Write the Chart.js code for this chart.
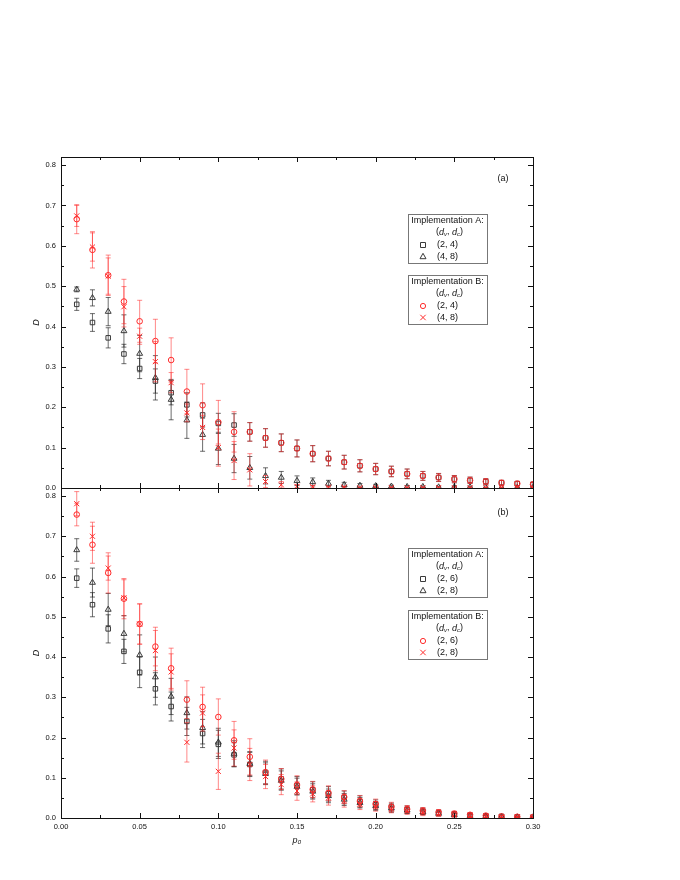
<!DOCTYPE html>
<html>
<head>
<meta charset="utf-8">
<script src="https://cdn.jsdelivr.net/npm/chart.js@4.4.1/dist/chart.umd.min.js"></script>
<style>
  html, body { margin: 0; background: #fff; }
  #wrap { position: relative; width: 680px; height: 880px; }
  #wrap canvas { position: absolute; left: 0; top: 0; }
</style>
</head>
<body>
<div id="wrap">
  <canvas id="panelB" width="680" height="880"></canvas>
  <canvas id="panelA" width="680" height="880"></canvas>
</div>
<script>
// p0 values shared by both panels
const pValues = [0.01, 0.02, 0.03, 0.04, 0.05, 0.06, 0.07, 0.08, 0.09, 0.10,
                 0.11, 0.12, 0.13, 0.14, 0.15, 0.16, 0.17, 0.18, 0.19, 0.20,
                 0.21, 0.22, 0.23, 0.24, 0.25, 0.26, 0.27, 0.28, 0.29, 0.30];

const xTickValues = [0, 0.05, 0.10, 0.15, 0.20, 0.25, 0.30];
const xMinorTicks = [0.025, 0.075, 0.125, 0.175, 0.225, 0.275];
const yTickValues = [0, 0.1, 0.2, 0.3, 0.4, 0.5, 0.6, 0.7, 0.8];
const yMinorTicks = [0.05, 0.15, 0.25, 0.35, 0.45, 0.55, 0.65, 0.75];

// panel (a): implementation A
const aA24 = [0.455, 0.410, 0.372, 0.332, 0.296, 0.265, 0.236, 0.206, 0.181, 0.160,
              0.156, 0.139, 0.124, 0.112, 0.098, 0.085, 0.073, 0.064, 0.055, 0.047,
              0.041, 0.035, 0.030, 0.026, 0.022, 0.019, 0.016, 0.013, 0.011, 0.009];
const aA24Err = [0.015, 0.022, 0.025, 0.024, 0.025, 0.030, 0.030, 0.030, 0.030, 0.025,
                 0.028, 0.023, 0.023, 0.022, 0.021, 0.020, 0.018, 0.017, 0.015, 0.014,
                 0.013, 0.012, 0.011, 0.010, 0.009, 0.008, 0.007, 0.006, 0.005, 0.005];
const aA48 = [0.492, 0.471, 0.437, 0.389, 0.333, 0.273, 0.219, 0.168, 0.132, 0.098,
              0.073, 0.050, 0.030, 0.026, 0.018, 0.015, 0.011, 0.008, 0.006, 0.005,
              0.004, 0.003, 0.003, 0.002, 0.002, 0.002, 0.001, 0.001, 0.001, 0.001];
const aA48Err = [0.006, 0.020, 0.035, 0.040, 0.045, 0.055, 0.050, 0.045, 0.041, 0.040,
                 0.035, 0.028, 0.020, 0.015, 0.012, 0.010, 0.008, 0.006, 0.005, 0.004,
                 0.003, 0.003, 0.002, 0.002, 0.002, 0.002, 0.001, 0.001, 0.001, 0.001];
// panel (a): implementation B
const aB24 = [0.666, 0.590, 0.527, 0.462, 0.413, 0.364, 0.317, 0.239, 0.205, 0.163,
              0.139, 0.139, 0.124, 0.112, 0.098, 0.085, 0.073, 0.064, 0.055, 0.047,
              0.041, 0.035, 0.030, 0.026, 0.022, 0.019, 0.016, 0.013, 0.011, 0.009];
const aB24Err = [0.036, 0.045, 0.050, 0.055, 0.052, 0.054, 0.055, 0.055, 0.053, 0.054,
                 0.050, 0.023, 0.023, 0.022, 0.021, 0.020, 0.018, 0.017, 0.015, 0.014,
                 0.013, 0.012, 0.011, 0.010, 0.009, 0.008, 0.007, 0.006, 0.005, 0.005];
const aB48 = [0.674, 0.597, 0.525, 0.449, 0.376, 0.313, 0.261, 0.186, 0.150, 0.100,
              0.068, 0.045, 0.016, 0.008, 0.004, 0.003, 0.002, 0.002, 0.001, 0.001,
              0.001, 0.001, 0.001, 0.001, 0.001, 0.001, 0.001, 0.001, 0.001, 0.001];
const aB48Err = [0.026, 0.035, 0.045, 0.050, 0.020, 0.050, 0.025, 0.022, 0.030, 0.046,
                 0.047, 0.040, 0.015, 0.008, 0.004, 0.003, 0.002, 0.002, 0.001, 0.001,
                 0.001, 0.001, 0.001, 0.001, 0.001, 0.001, 0.001, 0.001, 0.001, 0.001];

// panel (b): implementation A
const bA26 = [0.596, 0.530, 0.470, 0.414, 0.362, 0.321, 0.277, 0.240, 0.210, 0.183,
              0.157, 0.133, 0.113, 0.097, 0.081, 0.070, 0.060, 0.051, 0.041, 0.033,
              0.027, 0.021, 0.017, 0.013, 0.010, 0.007, 0.005, 0.004, 0.003, 0.002];
const bA26Err = [0.023, 0.030, 0.035, 0.030, 0.038, 0.040, 0.036, 0.035, 0.035, 0.035,
                 0.030, 0.030, 0.028, 0.025, 0.022, 0.020, 0.018, 0.016, 0.014, 0.012,
                 0.010, 0.009, 0.008, 0.007, 0.006, 0.005, 0.004, 0.003, 0.002, 0.002];
const bA28 = [0.666, 0.585, 0.518, 0.458, 0.405, 0.350, 0.302, 0.261, 0.224, 0.188,
              0.160, 0.135, 0.110, 0.093, 0.078, 0.066, 0.055, 0.046, 0.038, 0.030,
              0.024, 0.019, 0.015, 0.011, 0.008, 0.006, 0.004, 0.003, 0.002, 0.002];
const bA28Err = [0.028, 0.036, 0.040, 0.045, 0.050, 0.050, 0.045, 0.040, 0.040, 0.035,
                 0.032, 0.030, 0.027, 0.024, 0.021, 0.019, 0.017, 0.015, 0.013, 0.011,
                 0.010, 0.008, 0.007, 0.006, 0.005, 0.004, 0.003, 0.002, 0.002, 0.001];
// panel (b): implementation B
const bB26 = [0.754, 0.679, 0.609, 0.545, 0.482, 0.426, 0.372, 0.294, 0.276, 0.251,
              0.193, 0.152, 0.114, 0.097, 0.082, 0.071, 0.062, 0.052, 0.042, 0.035,
              0.028, 0.022, 0.018, 0.014, 0.011, 0.008, 0.006, 0.004, 0.003, 0.002];
const bB26Err = [0.028, 0.046, 0.050, 0.050, 0.050, 0.048, 0.050, 0.047, 0.049, 0.045,
                 0.047, 0.045, 0.030, 0.026, 0.023, 0.020, 0.018, 0.016, 0.014, 0.012,
                 0.011, 0.009, 0.008, 0.007, 0.006, 0.005, 0.004, 0.003, 0.002, 0.002];
const bB28 = [0.781, 0.700, 0.621, 0.547, 0.482, 0.416, 0.363, 0.188, 0.261, 0.116,
              0.174, 0.133, 0.103, 0.083, 0.067, 0.060, 0.050, 0.043, 0.035, 0.029,
              0.023, 0.018, 0.014, 0.011, 0.008, 0.006, 0.004, 0.003, 0.002, 0.002];
const bB28Err = [0.030, 0.035, 0.030, 0.045, 0.050, 0.050, 0.045, 0.049, 0.045, 0.045,
                 0.045, 0.040, 0.030, 0.025, 0.023, 0.020, 0.018, 0.016, 0.014, 0.012,
                 0.010, 0.009, 0.008, 0.007, 0.006, 0.005, 0.004, 0.003, 0.002, 0.002];

const BLACK = '#3a3a3a';
const RED = '#ff2a2a';
const BLACK_ERR = 'rgba(30,30,30,0.65)';
const RED_ERR = 'rgba(255,40,40,0.55)';

Chart.defaults.font.family = 'Arial, "Liberation Sans", sans-serif';
Chart.defaults.color = '#111';

// vertical error bars with caps, drawn under each dataset's markers
const errorBars = {
  id: 'errorBars',
  beforeDatasetDraw(chart, args) {
    const ds = chart.data.datasets[args.index];
    if (!ds.errors) return;
    const yScale = chart.scales[args.meta.yAxisID];
    const area = chart.chartArea;
    const ctx = chart.ctx;
    ctx.save();
    ctx.beginPath();
    ctx.rect(area.left, area.top, area.right - area.left, area.bottom - area.top);
    ctx.clip();
    ctx.strokeStyle = ds.errorColor;
    ctx.lineWidth = 1;
    ctx.beginPath();
    args.meta.data.forEach((pt, i) => {
      const v = ds.data[i].y, e = ds.errors[i];
      const y1 = yScale.getPixelForValue(v + e);
      const y2 = yScale.getPixelForValue(v - e);
      ctx.moveTo(pt.x, y1); ctx.lineTo(pt.x, y2);
      ctx.moveTo(pt.x - 2.5, y1); ctx.lineTo(pt.x + 2.5, y1);
      ctx.moveTo(pt.x - 2.5, y2); ctx.lineTo(pt.x + 2.5, y2);
    });
    ctx.stroke();
    ctx.restore();
  }
};

// frame with inward major/minor ticks on all four sides
const frameTicks = {
  id: 'frameTicks',
  afterDraw(chart) {
    const {ctx, chartArea: a, scales} = chart;
    const x = scales.x, y = scales.y;
    ctx.save();
    ctx.strokeStyle = '#111';
    ctx.lineWidth = 1;
    ctx.strokeRect(Math.round(a.left) + 0.5, Math.round(a.top) + 0.5,
                   Math.round(a.right - a.left), Math.round(a.bottom - a.top));
    ctx.beginPath();
    const xt = (v, len) => {
      const px = Math.round(x.getPixelForValue(v)) + 0.5;
      ctx.moveTo(px, a.bottom); ctx.lineTo(px, a.bottom - len);
      ctx.moveTo(px, a.top); ctx.lineTo(px, a.top + len);
    };
    const yt = (v, len) => {
      const py = Math.round(y.getPixelForValue(v)) + 0.5;
      ctx.moveTo(a.left, py); ctx.lineTo(a.left + len, py);
      ctx.moveTo(a.right, py); ctx.lineTo(a.right - len, py);
    };
    xTickValues.forEach(v => xt(v, 5));
    xMinorTicks.forEach(v => xt(v, 3));
    yTickValues.forEach(v => yt(v, 5));
    yMinorTicks.forEach(v => yt(v, 3));
    ctx.stroke();
    ctx.restore();
  }
};

function drawMarker(ctx, kind, cx, cy, color) {
  ctx.save();
  ctx.strokeStyle = color;
  ctx.lineWidth = 1;
  ctx.beginPath();
  if (kind === 'rect') {
    ctx.rect(cx - 2.5, cy - 2.5, 5, 5);
  } else if (kind === 'triangle') {
    ctx.moveTo(cx, cy - 3.2); ctx.lineTo(cx + 3, cy + 2.2); ctx.lineTo(cx - 3, cy + 2.2); ctx.closePath();
  } else if (kind === 'circle') {
    ctx.arc(cx, cy, 2.6, 0, Math.PI * 2);
  } else {
    ctx.moveTo(cx - 2.7, cy - 2.7); ctx.lineTo(cx + 2.7, cy + 2.7);
    ctx.moveTo(cx + 2.7, cy - 2.7); ctx.lineTo(cx - 2.7, cy + 2.7);
  }
  ctx.stroke();
  ctx.restore();
}

// "(d_v, d_c)" with italic d and small subscripts
function drawDvDc(ctx, cx, cy) {
  const parts = [
    ['(', '9px Arial', 0], ['d', 'italic 9px Arial', 0], ['v', 'italic 6px Arial', 2.5],
    [', ', '9px Arial', 0], ['d', 'italic 9px Arial', 0], ['c', 'italic 6px Arial', 2.5],
    [')', '9px Arial', 0]
  ];
  let w = 0;
  parts.forEach(p => { ctx.font = p[1]; w += ctx.measureText(p[0]).width; });
  let x = cx - w / 2;
  ctx.textAlign = 'left';
  parts.forEach(p => {
    ctx.font = p[1];
    ctx.fillText(p[0], x, cy + p[2]);
    x += ctx.measureText(p[0]).width;
  });
}

const panelNotes = {
  id: 'panelNotes',
  afterDraw(chart, args, o) {
    const {ctx, chartArea: a} = chart;
    ctx.save();
    ctx.fillStyle = '#111';
    ctx.textBaseline = 'middle';
    ctx.font = '9px Arial';
    ctx.textAlign = 'center';
    ctx.fillText(o.tag, a.right - 30, a.top + o.tagDy);
    o.boxes.forEach(b => {
      const left = a.right - 125, top = a.top + b.dy, w = 79, h = 49;
      ctx.strokeStyle = '#777';
      ctx.lineWidth = 1;
      ctx.strokeRect(Math.round(left) + 0.5, Math.round(top) + 0.5, w, h);
      ctx.fillStyle = '#111';
      ctx.font = '9px Arial';
      ctx.textAlign = 'center';
      ctx.fillText(b.title, left + w / 2, top + 7);
      drawDvDc(ctx, left + w / 2 + 2, top + 18);
      b.items.forEach((it, k) => {
        const yy = top + 31 + k * 11.5;
        drawMarker(ctx, it.marker, left + 15, yy, it.color);
        ctx.fillStyle = '#111';
        ctx.font = '9px Arial';
        ctx.textAlign = 'left';
        ctx.fillText(it.label, left + 29, yy);
      });
    });
    ctx.restore();
  }
};

function series(values, errors, style, color, errColor, radius, order) {
  return {
    data: pValues.map((p, i) => ({x: p, y: values[i]})),
    errors: errors,
    errorColor: errColor,
    showLine: false,
    pointStyle: style,
    pointRadius: radius,
    pointBorderWidth: 1,
    pointBorderColor: color,
    pointBackgroundColor: 'rgba(0,0,0,0)',
    order: order
  };
}

function makePanel(id, datasets, isBottom, notes) {
  const yTop = 0.82;
  return new Chart(document.getElementById(id), {
    type: 'scatter',
    data: {datasets: datasets},
    options: {
      responsive: false,
      animation: false,
      events: [],
      layout: {padding: isBottom ? {top: 488, right: 147, bottom: 0, left: 0}
                                 : {top: 157, right: 147, bottom: 392, left: 0}},
      plugins: {legend: {display: false}, tooltip: {enabled: false}, panelNotes: notes},
      scales: {
        x: {
          type: 'linear', min: 0, max: 0.30,
          display: isBottom,
          afterBuildTicks: s => { s.ticks = xTickValues.map(v => ({value: v})); },
          afterFit: s => { s.height = isBottom ? 62 : 0; },
          grid: {display: false, drawTicks: false},
          border: {display: false},
          ticks: {padding: 4, autoSkip: false, maxRotation: 0, font: {size: 7.5},
                  callback: v => v.toFixed(2)},
          title: {display: true, text: 'p₀', font: {size: 9, style: 'italic'},
                  padding: {top: 0, bottom: 34}}
        },
        y: {
          type: 'linear', min: 0, max: yTop,
          afterBuildTicks: s => { s.ticks = yTickValues.map(v => ({value: v})); },
          afterFit: s => { s.width = 61; },
          grid: {display: false, drawTicks: false},
          border: {display: false},
          ticks: {padding: 5, autoSkip: false, font: {size: 7.5},
                  callback: v => v.toFixed(1)},
          title: {display: true, text: 'D', font: {size: 9, style: 'italic'},
                  padding: {top: 31, bottom: 0}}
        }
      }
    },
    plugins: [errorBars, frameTicks, panelNotes]
  });
}

makePanel('panelA', [
  series(aB24, aB24Err, 'circle', RED, RED_ERR, 2.8, 0),
  series(aB48, aB48Err, 'crossRot', RED, RED_ERR, 3.6, 0),
  series(aA24, aA24Err, 'rect', BLACK, BLACK_ERR, 3.2, 1),
  series(aA48, aA48Err, 'triangle', BLACK, BLACK_ERR, 3.4, 1)
], false, {
  tag: '(a)', tagDy: 22,
  boxes: [
    {dy: 57, title: 'Implementation A:', items: [
      {marker: 'rect', color: BLACK, label: '(2, 4)'},
      {marker: 'triangle', color: BLACK, label: '(4, 8)'}]},
    {dy: 118, title: 'Implementation B:', items: [
      {marker: 'circle', color: RED, label: '(2, 4)'},
      {marker: 'cross', color: RED, label: '(4, 8)'}]}
  ]
});

makePanel('panelB', [
  series(bB26, bB26Err, 'circle', RED, RED_ERR, 2.8, 0),
  series(bB28, bB28Err, 'crossRot', RED, RED_ERR, 3.6, 0),
  series(bA26, bA26Err, 'rect', BLACK, BLACK_ERR, 3.2, 1),
  series(bA28, bA28Err, 'triangle', BLACK, BLACK_ERR, 3.4, 1)
], true, {
  tag: '(b)', tagDy: 25,
  boxes: [
    {dy: 60, title: 'Implementation A:', items: [
      {marker: 'rect', color: BLACK, label: '(2, 6)'},
      {marker: 'triangle', color: BLACK, label: '(2, 8)'}]},
    {dy: 122, title: 'Implementation B:', items: [
      {marker: 'circle', color: RED, label: '(2, 6)'},
      {marker: 'cross', color: RED, label: '(2, 8)'}]}
  ]
});
</script>
</body>
</html>
